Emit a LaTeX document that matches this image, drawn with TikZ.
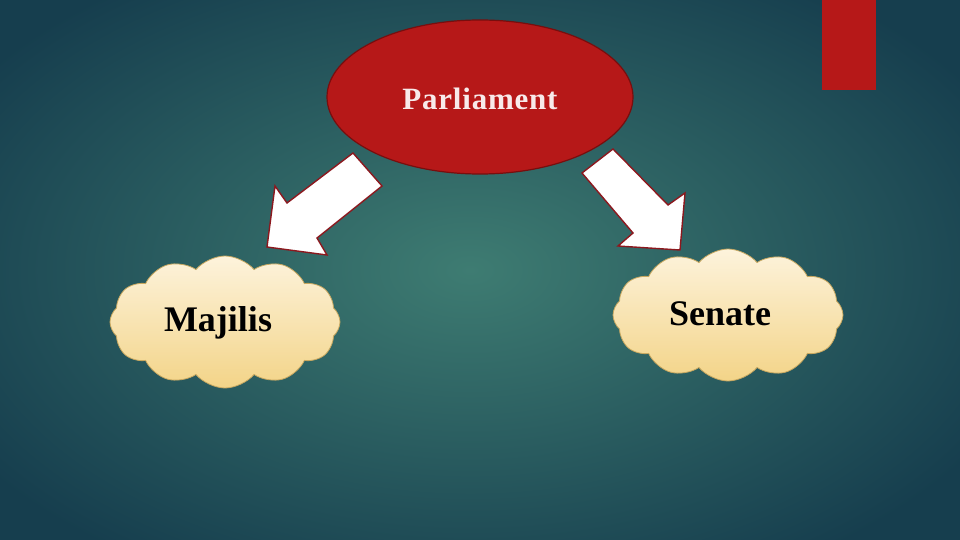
\documentclass[tikz,border=0pt]{standalone}
\usepackage{fontspec}
\setmainfont{Liberation Serif}
\usetikzlibrary{shapes.symbols,shapes.geometric}
\definecolor{bgin}{RGB}{62,124,114}
\definecolor{bgout}{RGB}{22,62,78}
\definecolor{redfill}{RGB}{182,24,24}
\definecolor{redline}{RGB}{120,14,14}
\definecolor{cloudtop}{RGB}{253,243,220}
\definecolor{cloudbot}{RGB}{243,212,136}
\definecolor{cloudline}{RGB}{200,168,96}
\definecolor{arrowline}{RGB}{140,24,30}
\definecolor{ptext}{RGB}{248,234,234}
\tikzset{
  house/.style={ellipse, fill=redfill, draw=redline, line width=1.2pt,
    minimum width=306pt, minimum height=154pt, inner sep=0pt},
  housetext/.style={text=ptext, font=\bfseries\fontsize{31}{36}\selectfont},
  chamber/.style={cloud, cloud puffs=12, cloud puff arc=100, aspect=1.8,
    minimum width=230pt, minimum height=132pt, inner sep=0pt,
    top color=cloudtop, bottom color=cloudbot, draw=cloudline, line width=0.8pt},
  chambertext/.style={text=black, font=\bfseries\fontsize{36}{42}\selectfont}
}
\begin{document}
\begin{tikzpicture}[x=1pt,y=-1pt]
\useasboundingbox (0,0) rectangle (960,540);
\shade[inner color=bgin, outer color=bgout] (-120,-80) rectangle (1060,620);
\fill[redfill] (822,0) rectangle (876,90);
\node[house] (parl) at (480,97) {};
\node[housetext] (parlt) at ([yshift=-2pt]parl.center) {\addfontfeature{LetterSpace=2.5}Parliament};
\node[chamber] (maj) at (225,322) {};
\node[chamber] (sen) at (728,315) {};
\node[chambertext] (majt) at ([xshift=-7pt,yshift=-1pt]maj.center) {Majilis};
\node[chambertext] (sent) at ([xshift=-8pt,yshift=1pt]sen.center) {Senate};
% left block arrow
\draw[fill=white, draw=arrowline, line width=1.4pt, line join=miter]
  (353,153) -- (382,186) -- (317,238) -- (327,255) -- (267,247)
  -- (275,186) -- (287,203) -- cycle;
% right block arrow
\draw[fill=white, draw=arrowline, line width=1.4pt, line join=miter]
  (613,149) -- (668,205) -- (685,193) -- (680,250) -- (618,246)
  -- (633,233) -- (582,173) -- cycle;
\end{tikzpicture}
\end{document}
